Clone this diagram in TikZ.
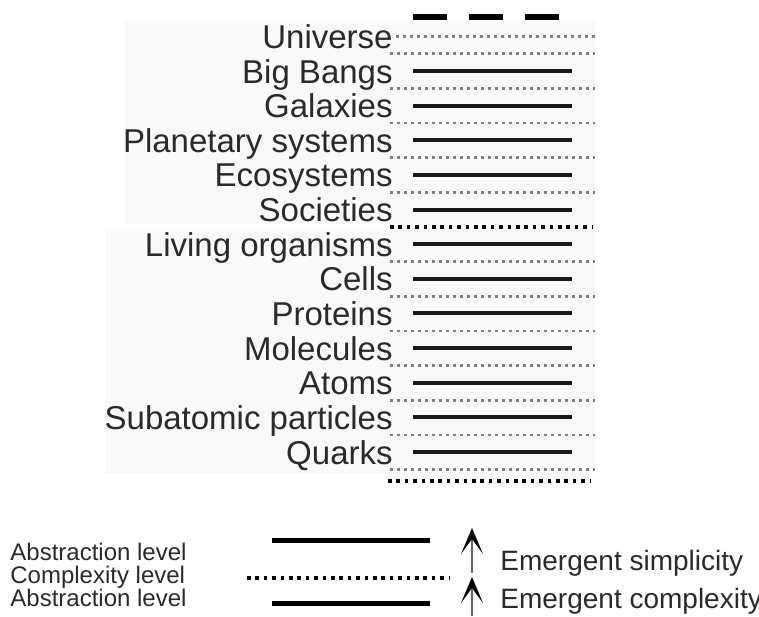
\documentclass[tikz,border=0pt]{standalone}
\usepackage{fontspec}
\setmainfont{Liberation Sans}
\usepackage{tikz}
\usetikzlibrary{arrows.meta,positioning}
\usepackage{xcolor}
\definecolor{ink}{HTML}{2a2a2a}
\definecolor{haze}{HTML}{f9f9f9}

\begin{document}
\begin{tikzpicture}[x=0.5pt,y=-0.5pt,
   l/.style={anchor=base east,inner sep=0pt,text=ink,font=\fontsize{16.5}{18}\selectfont},
   g/.style={anchor=base west,inner sep=0pt,text=ink,font=\fontsize{12}{14}\selectfont},
   s/.style={line width=2pt,black!90},
   d/.style={line width=1.3pt,black!50,dash pattern=on 1.3pt off 2.2pt},
   k/.style={line width=1.8pt,black,dash pattern=on 1.8pt off 2.4pt},
   a/.style={-{Stealth[length=13pt,width=11pt,inset=7.5pt,black]},line width=0.7pt,black!60}]
  \useasboundingbox (0,0) rectangle (759,616);
  \fill[haze] (125,22) rectangle (595,224);
  \fill[haze] (105,230) rectangle (595,473);
  % top marks
  \draw[line width=3pt,dash pattern=on 17pt off 11pt] (413,16.5) -- (559,16.5);
  % levels
  \node[l] (u)   at (393,48)    {Universe};
  \node[l] (bb)  at (393,83)    {Big Bangs};
  \node[l] (gal) at (393,117.6) {Galaxies};
  \node[l] (ps)  at (393,152.3) {Planetary systems};
  \node[l] (eco) at (393,186.9) {Ecosystems};
  \node[l] (soc) at (393,221.6) {Societies};
  \node[l] (liv) at (393,256.2) {Living organisms};
  \node[l] (cel) at (393,290.9) {Cells};
  \node[l] (pro) at (393,325.5) {Proteins};
  \node[l] (mol) at (393,360.2) {Molecules};
  \node[l] (ato) at (393,394.8) {Atoms};
  \node[l] (sub) at (393,429.4) {Subatomic particles};
  \node[l] (qua) at (393,464.1) {Quarks};
  \draw[d] (396,36.4) -- (595,36.4);
  \foreach \y in {53.7,88.4,123,157.7,192.3,261.6,296.3,330.9,365.6,400.2,434.8,469.5}
    \draw[d] (390,\y) -- (595,\y);
  \foreach \i in {0,...,11}
    \draw[s] (413,{71+34.64*\i}) -- (572,{71+34.64*\i});
  \draw[k] (390,227) -- (592,227);
  \draw[k] (388,481) -- (590,481);
  % legend
  \node[g] (ab1) at (10,560) {Abstraction level};
  \node[g] (cx)  at (10,583) {Complexity level};
  \node[g] (ab2) at (10,606) {Abstraction level};
  \draw[line width=2.5pt] (272,540) -- (430,540);
  \draw[k] (247,578) -- (450,578);
  \draw[line width=2.5pt] (272,603) -- (430,603);
  \coordinate (p0) at (472,573);
  \coordinate (p1) at (472,528);
  \coordinate (q0) at (472,616);
  \coordinate (q1) at (472,577);
  \draw[a] (p0) -- (p1);
  \draw[a] (q0) -- (q1);
  \node[g,font=\fontsize{14}{16}\selectfont] (es) at (500,570) {Emergent simplicity};
  \node[g,font=\fontsize{14}{16}\selectfont] (ec) at (500,608) {Emergent complexity};
\end{tikzpicture}
\end{document}
